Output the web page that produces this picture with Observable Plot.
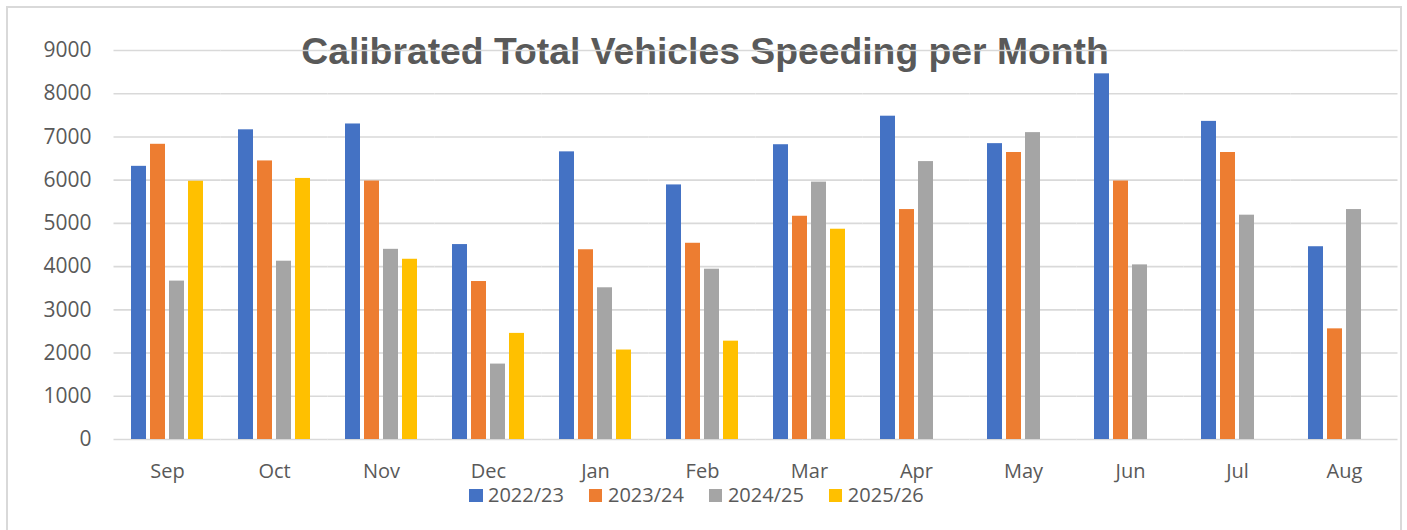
<!DOCTYPE html>
<html>
<head>
<meta charset="utf-8">
<script src="https://cdn.jsdelivr.net/npm/d3@7"></script>
<script src="https://cdn.jsdelivr.net/npm/@observablehq/plot@0.6"></script>
<style>
  html, body { margin: 0; padding: 0; background: #fff; width: 1407px; height: 530px; overflow: hidden; }
  #frame { position: absolute; left: 6px; top: 6px; width: 1396px; height: 560px; border: 2px solid #d9d9d9; box-sizing: border-box; }
  #title { position: absolute; left: 0; width: 1410px; top: 32.5px; text-align: center;
           font: bold 37.3px "Liberation Sans", Arial, sans-serif; line-height: 37px; color: #595959; white-space: nowrap; }
  #chart { position: absolute; left: 0; top: 0; }
  #legend { position: absolute; left: 469px; top: 483px; display: flex; align-items: center;
            font: 20px "Open Sans", sans-serif; color: #595959; line-height: 24px; }
  .item { display: flex; align-items: center; margin-right: 25px; }
  .sw { width: 13.5px; height: 13.5px; margin-right: 5.5px; margin-top: 1px; }
</style>
</head>
<body>
<div id="frame"></div>
<div id="title">Calibrated Total Vehicles Speeding per Month</div>
<div id="chart"></div>
<div id="legend"></div>
<script>
const months = ["Sep","Oct","Nov","Dec","Jan","Feb","Mar","Apr","May","Jun","Jul","Aug"];
const series = ["2022/23","2023/24","2024/25","2025/26"];
const colors = ["#4472C4","#ED7D31","#A5A5A5","#FFC000"];
const yTicks = [0,1000,2000,3000,4000,5000,6000,7000,8000,9000];

const v2022 = [6320,7165,7300,4510,6655,5890,6820,7480,6845,8460,7360,4460];
const v2023 = [6830,6445,5980,3655,4390,4540,5165,5320,6640,5980,6640,2560];
const v2024 = [3665,4125,4400,1745,3510,3940,5955,6430,7100,4040,5190,5320];
const v2025 = [5975,6040,4170,2455,2070,2275,4865,null,null,null,null,null];

const allValues = [v2022, v2023, v2024, v2025];
const data = [];
months.forEach((m, i) => {
  series.forEach((s, k) => {
    const v = allValues[k][i];
    if (v != null) data.push({month: m, series: s, value: v});
  });
});

const chart = Plot.plot({
  width: 1407,
  height: 490,
  marginLeft: 112,
  marginRight: 7,
  marginTop: 50,
  marginBottom: 51,
  style: {fontSize: "21px", fontFamily: "'Open Sans', sans-serif", color: "#595959", background: "transparent", overflow: "visible"},
  fx: {domain: months, paddingInner: 0.27, paddingOuter: 0.135, label: null},
  x: {domain: series, paddingInner: 0.2, paddingOuter: 0.1, axis: null},
  y: {domain: [0, 9000], label: null},
  color: {domain: series, range: colors},
  marks: [
    Plot.ruleY(yTicks, {stroke: "#d9d9d9", strokeWidth: 1.6, insetLeft: -14.5, insetRight: -14.5}),
    Plot.barY(data, {fx: "month", x: "series", y: "value", fill: "series"}),
    Plot.axisY({ticks: yTicks, tickFormat: d3.format("d"), tickSize: 0, tickPadding: 37, fontSize: 21, label: null}),
    Plot.axisFx({anchor: "bottom", tickSize: 0, tickPadding: 24, fontSize: 20, label: null})
  ]
});
document.getElementById("chart").appendChild(chart);

const legend = d3.select("#legend");
series.forEach((s, k) => {
  const it = legend.append("div").attr("class", "item");
  it.append("div").attr("class", "sw").style("background", colors[k]);
  it.append("span").text(s);
});
</script>
</body>
</html>
